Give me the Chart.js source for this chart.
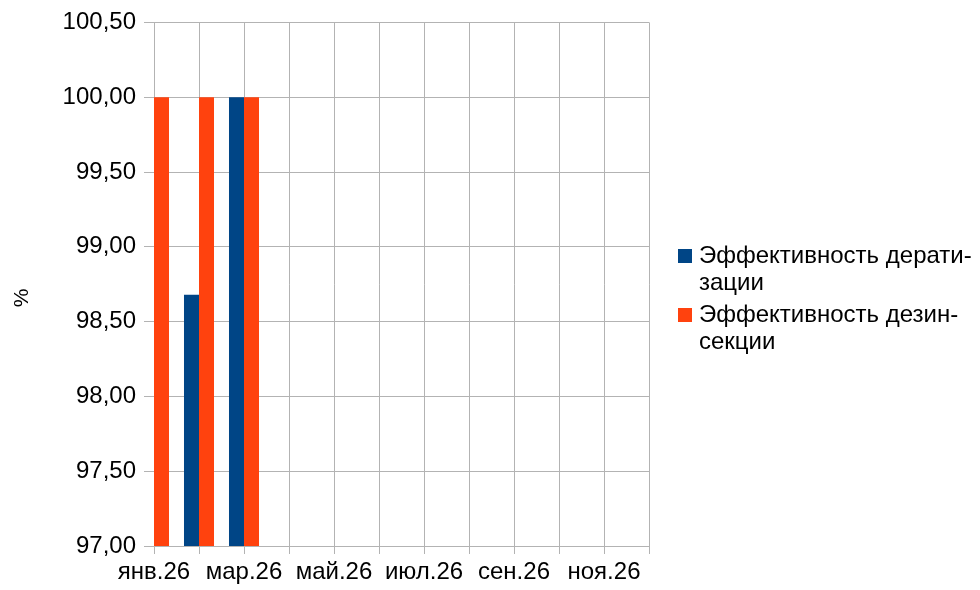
<!DOCTYPE html>
<html>
<head>
<meta charset="utf-8">
<script src="https://cdn.jsdelivr.net/npm/chart.js@4/dist/chart.umd.min.js"></script>
<style>
  html, body { margin: 0; padding: 0; background: #fff; }
  #wrap { width: 980px; height: 590px; position: relative; }
</style>
</head>
<body>
<div id="wrap"><canvas id="chart" width="980" height="590"></canvas></div>
<script>
// Данные графика
const months = ['янв.26', 'фев.26', 'мар.26', 'апр.26', 'май.26', 'июн.26',
  'июл.26', 'авг.26', 'сен.26', 'окт.26', 'ноя.26', 'дек.26'];
const deratizacia = [null, 98.68, 100, null, null, null, null, null, null, null, null, null];
const dezinsekcia = [100, 100, 100, null, null, null, null, null, null, null, null, null];
const seriesNames = ['Эффективность дератизации', 'Эффективность дезинсекции'];
const legendLines = [['Эффективность дерати-', 'зации'], ['Эффективность дезин-', 'секции']];
const yTicks = [97, 97.5, 98, 98.5, 99, 99.5, 100, 100.5];
const yTitle = '%';
const colors = ['#004586', '#ff420e'];

const FONT = 'Liberation Sans, Arial, sans-serif';

// Легенда справа с переносом строк + подпись оси Y
const sideLegend = {
  id: 'sideLegend',
  afterDraw(chart) {
    const ctx = chart.ctx;
    ctx.save();
    ctx.font = '24px ' + FONT;
    ctx.textBaseline = 'alphabetic';
    const x = 678, lineH = 27;
    let y = 263;
    legendLines.forEach((lines, i) => {
      ctx.fillStyle = colors[i];
      ctx.fillRect(x, y - 14, 14, 14);
      ctx.fillStyle = '#000';
      lines.forEach((t, j) => ctx.fillText(t, x + 21, y + j * lineH));
      y += 59;
    });

    // подпись оси
    ctx.translate(22, 298);
    ctx.rotate(-Math.PI / 2);
    ctx.font = '21px ' + FONT;
    ctx.textAlign = 'center';
    ctx.textBaseline = 'middle';
    ctx.fillText(yTitle, 0, 0);
    ctx.restore();
  }
};

const ctx = document.getElementById('chart').getContext('2d');
new Chart(ctx, {
  type: 'bar',
  data: {
    labels: months,
    datasets: [
      { label: seriesNames[0], data: deratizacia, backgroundColor: colors[0] },
      { label: seriesNames[1], data: dezinsekcia, backgroundColor: colors[1] }
    ]
  },
  options: {
    responsive: false,
    animation: false,
    datasets: {
      bar: { barPercentage: 1, categoryPercentage: 0.667 }
    },
    layout: { padding: { top: 22, right: 331, bottom: 0, left: 0 } },
    plugins: {
      legend: { display: false },
      tooltip: { enabled: false }
    },
    scales: {
      x: {
        offset: false,
        grid: { offset: false, color: '#b3b3b3', tickLength: 8, drawTicks: true },
        border: { color: '#b3b3b3' },
        ticks: {
          autoSkip: false,
          maxRotation: 0,
          padding: 4,
          color: '#000',
          font: { family: FONT, size: 24 },
          callback: (v, i) => (i % 2 === 0 ? months[i] : '')
        },
        afterFit: s => { s.height = 44; }
      },
      y: {
        min: 97,
        max: 100.5,
        afterBuildTicks: s => { s.ticks = yTicks.map(v => ({ value: v })); },
        grid: { color: '#b3b3b3', tickLength: 10 },
        border: { color: '#b3b3b3' },
        ticks: {
          padding: 8,
          color: '#000',
          font: { family: FONT, size: 24 },
          callback: v => v.toFixed(2).replace('.', ',')
        },
        afterFit: s => { s.width = 154; }
      }
    }
  },
  plugins: [sideLegend]
});
</script>
</body>
</html>
